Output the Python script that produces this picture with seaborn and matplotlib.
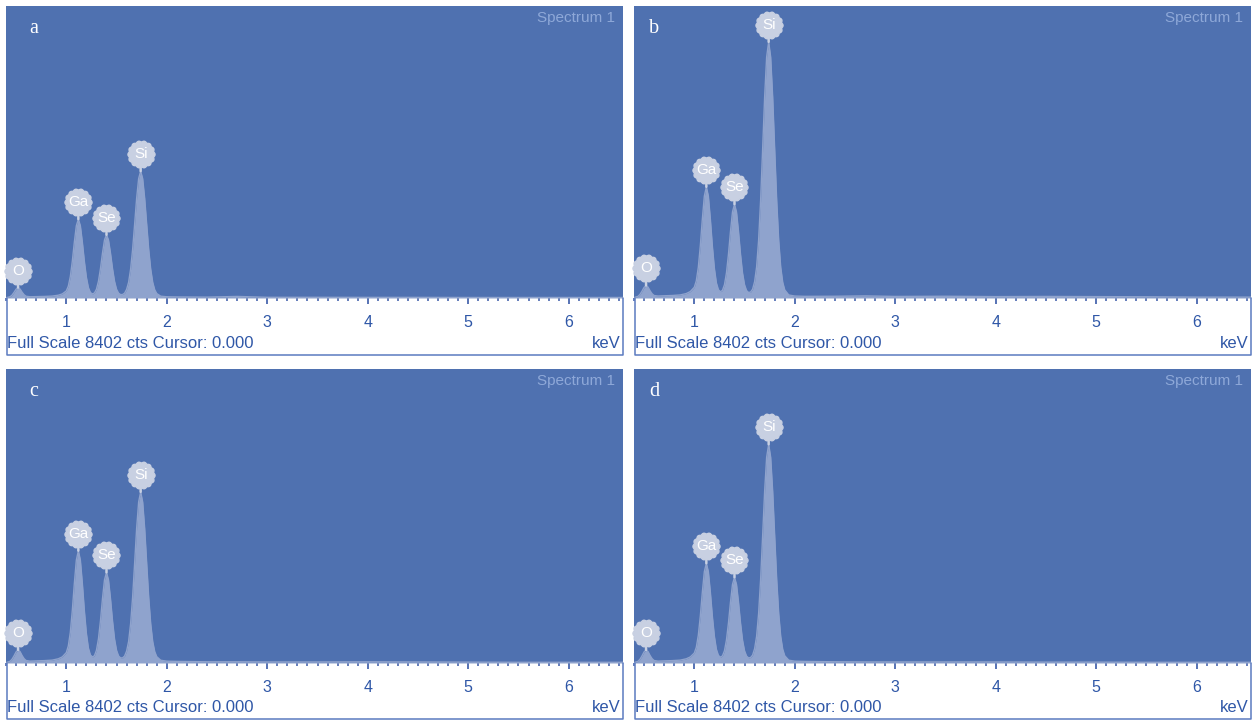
import numpy as np
import matplotlib
matplotlib.use("Agg")
import matplotlib.pyplot as plt
import matplotlib.transforms as mtransforms
from matplotlib.path import Path
from matplotlib.lines import Line2D
from matplotlib.ticker import MultipleLocator, FixedLocator, FixedFormatter
import seaborn as sns

# ---------------- data ----------------
energy_kev = [0.40, 0.44, 0.46, 0.48, 0.50, 0.52, 0.54, 0.56, 0.58, 0.60,
              0.64, 0.70, 0.78, 0.86, 0.92, 0.96, 1.00, 1.02, 1.04, 1.06,
              1.08, 1.10, 1.12, 1.14, 1.16, 1.18, 1.20, 1.22, 1.24, 1.26,
              1.28, 1.30, 1.32, 1.34, 1.36, 1.38, 1.40, 1.42, 1.44, 1.46,
              1.48, 1.50, 1.52, 1.54, 1.56, 1.58, 1.60, 1.62, 1.64, 1.66,
              1.68, 1.70, 1.72, 1.74, 1.76, 1.78, 1.80, 1.82, 1.84, 1.86,
              1.88, 1.90, 1.94, 2.00, 2.10, 2.40, 2.70, 3.00, 3.50, 4.00,
              4.50, 5.00, 5.50, 6.00, 6.54]

counts_a = [6, 35, 83, 163, 253, 300, 258, 168, 93, 50,
            36, 40, 45, 55, 80, 117, 203, 338, 615, 1060,
            1604, 2079, 2270, 2079, 1604, 1050, 595, 299, 158, 117,
            144, 252, 481, 845, 1288, 1668, 1820, 1668, 1288, 845,
            481, 252, 139, 98, 100, 138, 246, 451, 832, 1399,
            2124, 2867, 3435, 3650, 3435, 2867, 2124, 1399, 832, 451,
            236, 128, 52, 35, 30, 25, 45, 20, 20, 18,
            18, 15, 15, 15, 15]

counts_b = [9, 47, 106, 198, 304, 360, 312, 206, 122, 71,
            57, 64, 72, 88, 128, 185, 309, 495, 882, 1505,
            2266, 2933, 3200, 2933, 2266, 1489, 850, 433, 237, 180,
            219, 381, 720, 1258, 1913, 2475, 2700, 2475, 1913, 1258,
            720, 382, 214, 158, 171, 252, 468, 889, 1660, 2809,
            4279, 5784, 6934, 7370, 6934, 5784, 4279, 2809, 1660, 889,
            452, 234, 87, 56, 48, 50, 60, 45, 50, 40,
            45, 40, 35, 25, 25]

counts_c = [9, 47, 108, 205, 316, 375, 324, 213, 123, 70,
            53, 60, 68, 82, 120, 174, 297, 486, 876, 1504,
            2271, 2941, 3210, 2941, 2271, 1489, 846, 427, 229, 172,
            208, 363, 689, 1206, 1835, 2374, 2590, 2374, 1835, 1206,
            689, 364, 202, 145, 146, 198, 340, 613, 1122, 1880,
            2850, 3844, 4602, 4890, 4602, 3844, 2850, 1880, 1122, 613,
            325, 181, 78, 52, 45, 35, 35, 30, 30, 35,
            30, 25, 20, 20, 20]

counts_d = [9, 47, 108, 205, 316, 375, 324, 213, 123, 70,
            53, 60, 68, 82, 120, 173, 284, 449, 792, 1344,
            2020, 2612, 2850, 2612, 2020, 1329, 762, 390, 216, 166,
            202, 349, 656, 1144, 1737, 2246, 2450, 2246, 1737, 1144,
            656, 350, 198, 145, 155, 224, 407, 761, 1414, 2388,
            3632, 4907, 5880, 6250, 5880, 4907, 3632, 2388, 1414, 761,
            392, 207, 80, 52, 45, 35, 30, 30, 30, 30,
            25, 25, 20, 20, 20]

elements = ["O", "Ga", "Se", "Si"]
element_kev = [0.52, 1.12, 1.40, 1.74]
peak_counts_a = [300, 2270, 1820, 3650]
peak_counts_b = [360, 3200, 2700, 7370]
peak_counts_c = [375, 3210, 2590, 4890]
peak_counts_d = [375, 2850, 2450, 6250]

panel_letters = ["a", "b", "c", "d"]
tick_values = [1, 2, 3, 4, 5, 6]
tick_labels = ["1", "2", "3", "4", "5", "6"]
full_scale_cts = 8402
energy_range = (0.40, 6.54)
footer_text = "Full Scale 8402 cts Cursor: 0.000"
unit_text = "keV"
spectrum_text = "Spectrum 1"

spectra = [counts_a, counts_b, counts_c, counts_d]
peaks = [peak_counts_a, peak_counts_b, peak_counts_c, peak_counts_d]

# ---------------- style ----------------
sns.set_style("white")
plt.rcParams['font.family'] = ['Liberation Sans', 'DejaVu Sans']

W, H = 1257, 722
fig = plt.figure(figsize=(W / 100, H / 100), dpi=100)

BLUE = '#4f71b0'
FILL = '#8fa3cd'
BADGE = '#c8d0e2'
TICK = '#3a5aa8'
TXT = '#2f57a7'
BORDER = '#5b7bc0'
SPEC = '#8ea8d8'

# (left, top, width, plot height, strip height) in pixels
geoms = [(6, 6, 617, 292, 57), (634, 6, 617, 292, 57),
         (6, 369, 617, 294, 56), (634, 369, 617, 294, 56)]
letter_x = [34, 654, 34, 654]

def fx(px):
    return px / W

def fy(py):
    return 1 - py / H

# scalloped badge marker
th = np.linspace(0, 2 * np.pi, 241)
rr = 0.9 + 0.1 * np.abs(np.cos(7 * th))
badge_path = Path(np.column_stack([rr * np.cos(th), rr * np.sin(th)]), closed=True)

for k, (l, t, w, h, sh) in enumerate(geoms):
    ax = fig.add_axes([fx(l), fy(t + h), w / W, h / H])
    ax.set_facecolor(BLUE)
    for s in ax.spines.values():
        s.set_visible(False)
    ax.grid(False)

    ax.fill_between(energy_kev, spectra[k], 0, color=FILL, lw=0, zorder=2)
    sns.lineplot(x=energy_kev, y=spectra[k], ax=ax, color=FILL, lw=1.0,
                 zorder=3, legend=False)

    ax.set_xlim(*energy_range)
    ax.set_ylim(0, full_scale_cts)
    ax.set_yticks([])
    ax.set_ylabel("")
    ax.set_xlabel("")
    ax.xaxis.set_major_locator(FixedLocator(tick_values))
    ax.xaxis.set_major_formatter(FixedFormatter(tick_labels))
    ax.xaxis.set_minor_locator(MultipleLocator(0.1))
    ax.tick_params(axis='x', which='major', direction='out', length=4.3,
                   width=1.2, color=TICK, labelcolor=TXT, labelsize=11.5,
                   pad=8.0, bottom=True)
    ax.tick_params(axis='x', which='minor', direction='out', length=2.4,
                   width=1.1, color=TICK, bottom=True)

    # element badges
    off = mtransforms.offset_copy(ax.transData, fig=fig, x=0, y=17, units='dots')
    for el, e, pk in zip(elements, element_kev, peaks[k]):
        ax.annotate("", xy=(e, pk), xytext=(0, 8), textcoords='offset pixels',
                    arrowprops=dict(arrowstyle='-', color=BADGE, lw=1.8,
                                    shrinkA=0, shrinkB=0), zorder=4)
        ax.plot([e], [pk], marker=badge_path, ms=19.5, color=BADGE,
                mec=BADGE, transform=off, clip_on=False, zorder=5)
        ax.text(e, pk, el, transform=off, ha='center', va='center',
                color='white', fontsize=11, zorder=6)

    # white strip border (left, bottom, right)
    base = t + h
    bottom = t + h + sh
    fig.add_artist(Line2D([fx(l + 0.5), fx(l + 0.5), fx(l + w - 0.5), fx(l + w - 0.5)],
                          [fy(base), fy(bottom), fy(bottom), fy(base)],
                          transform=fig.transFigure, color=BORDER, lw=1.1))

    fig.text(fx(l + 1), fy(bottom - 6.5), footer_text, ha='left', va='baseline',
             fontsize=12, color=TXT)
    fig.text(fx(l + w - 2), fy(bottom - 6.5), unit_text, ha='right', va='baseline',
             fontsize=12, color=TXT)
    fig.text(fx(l + w - 8), fy(t + 16), spectrum_text, ha='right', va='baseline',
             fontsize=11, color=SPEC)
    fig.text(fx(letter_x[k]), fy(t + 27), panel_letters[k], ha='center',
             va='baseline', fontsize=14.5, color='white',
             family=['Liberation Serif', 'DejaVu Serif'])

fig.savefig('out.png', dpi=100)
